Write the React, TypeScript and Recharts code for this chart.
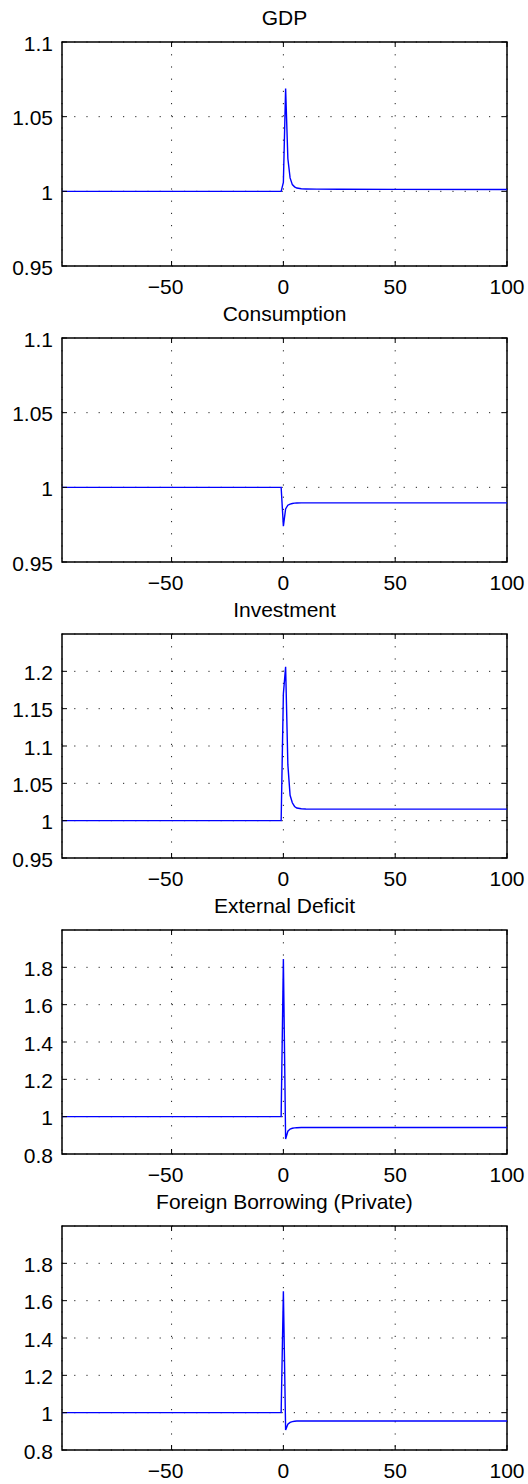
import React from 'react';
import { LineChart, Line, XAxis, YAxis, CartesianGrid, ReferenceArea } from 'recharts';

// ---- data ----
const periods = [-99, -1, 0, 1, 2, 3, 4, 5, 6, 8, 10, 15, 25, 50, 100];

const gdp = [1, 1, 1.006, 1.0688, 1.022, 1.009, 1.0045, 1.003, 1.0022, 1.0017, 1.0016, 1.0015, 1.0014, 1.0013, 1.0012];
const consumption = [1, 1, 0.974, 0.9855, 0.988, 0.9888, 0.9892, 0.9894, 0.9895, 0.9896, 0.9896, 0.9896, 0.9896, 0.9896, 0.9896];
const investment = [1, 1, 1.17, 1.206, 1.075, 1.034, 1.024, 1.019, 1.017, 1.016, 1.0157, 1.0155, 1.0155, 1.0155, 1.0155];
const externalDeficit = [1, 1, 1.845, 0.88, 0.922, 0.934, 0.938, 0.94, 0.941, 0.942, 0.942, 0.942, 0.942, 0.942, 0.942];
const foreignBorrowing = [1, 1, 1.65, 0.907, 0.938, 0.948, 0.952, 0.954, 0.955, 0.955, 0.955, 0.955, 0.955, 0.955, 0.955];

const titles = ['GDP', 'Consumption', 'Investment', 'External Deficit', 'Foreign Borrowing (Private)'];

const xTicks = [-50, 0, 50, 100];
const xDomain = [-99, 100];
const yTicksSmall = [0.95, 1, 1.05, 1.1];
const yTicksInv = [0.95, 1, 1.05, 1.1, 1.15, 1.2];
const yTicksLarge = [0.8, 1, 1.2, 1.4, 1.6, 1.8];
const yDomainSmall = [0.95, 1.1];
const yDomainInv = [0.95, 1.25];
const yDomainLarge = [0.8, 2.0];

const panels = [
  { title: titles[0], values: gdp, ticks: yTicksSmall, domain: yDomainSmall },
  { title: titles[1], values: consumption, ticks: yTicksSmall, domain: yDomainSmall },
  { title: titles[2], values: investment, ticks: yTicksInv, domain: yDomainInv },
  { title: titles[3], values: externalDeficit, ticks: yTicksLarge, domain: yDomainLarge },
  { title: titles[4], values: foreignBorrowing, ticks: yTicksLarge, domain: yDomainLarge },
];

// ---- layout ----
const W = 528;
const PANEL_H = 296;
const EXTRA = 12;
const TOP = 42;
const PH = 224;
const LEFT = 62;
const RIGHT = 21;
const PW = W - LEFT - RIGHT;
const TICK = 5;
const FONT = '"Liberation Sans", Arial, Helvetica, sans-serif';
const FS = 21;

const XTick = (props: any) => {
  const { x, y, payload } = props;
  const v = payload.value as number;
  const label = v < 0 ? '\u2212' + Math.abs(v) : String(v);
  const shift = v < 0 ? -6 : 0;
  return (
    <g>
      <line x1={x} y1={y} x2={x} y2={y - TICK} stroke="#000" strokeWidth={1} />
      <line x1={x} y1={y - PH} x2={x} y2={y - PH + TICK} stroke="#000" strokeWidth={1} />
      <text x={x + shift} y={y + 28} textAnchor="middle" fontSize={FS} fontFamily={FONT} fill="#000">
        {label}
      </text>
    </g>
  );
};

const YTick = (props: any) => {
  const { x, y, payload } = props;
  const v = payload.value as number;
  return (
    <g>
      <line x1={x} y1={y} x2={x + TICK} y2={y} stroke="#000" strokeWidth={1} />
      <line x1={x + PW} y1={y} x2={x + PW - TICK} y2={y} stroke="#000" strokeWidth={1} />
      <text x={x - 9} y={y + 8.5} textAnchor="end" fontSize={FS} fontFamily={FONT} fill="#000">
        {String(v)}
      </text>
    </g>
  );
};

const Panel = ({ p, index }: { p: any; index: number }) => {
  const data = periods.map((t, i) => ({ t, v: p.values[i] }));
  return (
    <div style={{ position: 'absolute', left: 0, top: index * PANEL_H, width: W, height: PANEL_H + EXTRA }}>
      <LineChart
        width={W}
        height={PANEL_H + EXTRA}
        data={data}
        margin={{ top: TOP, right: RIGHT, bottom: EXTRA, left: 0 }}
        style={{ fontFamily: FONT }}
      >
        <CartesianGrid stroke="#222" strokeDasharray="1.2 11" strokeWidth={1} />
        <XAxis
          dataKey="t"
          type="number"
          domain={xDomain}
          ticks={xTicks}
          interval={0}
          allowDataOverflow
          height={30}
          tickSize={0}
          tickMargin={0}
          tickLine={false}
          axisLine={false}
          tick={<XTick />}
        />
        <YAxis
          type="number"
          domain={p.domain}
          ticks={p.ticks}
          interval={0}
          allowDataOverflow
          width={LEFT}
          tickSize={0}
          tickMargin={0}
          tickLine={false}
          axisLine={false}
          tick={<YTick />}
        />
        <ReferenceArea
          x1={xDomain[0]}
          x2={xDomain[1]}
          y1={p.domain[0]}
          y2={p.domain[1]}
          fill="none"
          fillOpacity={0}
          stroke="#000"
          strokeWidth={1.5}
          strokeOpacity={1}
          ifOverflow="visible"
        />
        <Line
          type="linear"
          dataKey="v"
          stroke="#0000ff"
          strokeWidth={1.4}
          dot={false}
          activeDot={false}
          isAnimationActive={false}
        />
      </LineChart>
      <div
        style={{
          position: 'absolute',
          left: LEFT,
          width: PW,
          top: 6,
          textAlign: 'center',
          fontFamily: FONT,
          fontSize: FS,
          color: '#000',
          whiteSpace: 'nowrap',
        }}
      >
        {p.title}
      </div>
    </div>
  );
};

export default function App() {
  return (
    <div style={{ position: 'absolute', left: 0, top: 0, width: W, height: 1484, background: '#fff' }}>
      {panels.map((p, i) => (
        <Panel key={i} p={p} index={i} />
      ))}
    </div>
  );
}
